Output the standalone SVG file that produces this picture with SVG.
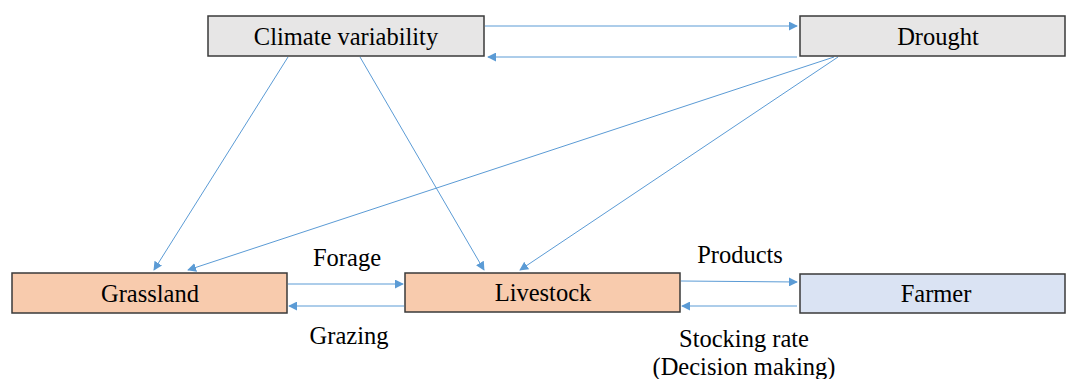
<svg xmlns="http://www.w3.org/2000/svg" width="1067" height="379" viewBox="0 0 1067 379">
<style>
.box{stroke:#3a3a3a;stroke-width:1.5}
.gray{fill:#e7e6e6}
.orange{fill:#f8cbad}
.blue{fill:#dae3f3}
text{font-family:"Liberation Serif","Times New Roman",serif;font-size:24.5px;fill:#000}
.c{text-anchor:middle}
.ln{stroke:#5b9bd5;stroke-width:1;fill:none;marker-end:url(#ah)}
</style>
<defs>
<marker id="ah" viewBox="0 0 10 10" refX="9" refY="5" markerWidth="9" markerHeight="9" markerUnits="userSpaceOnUse" orient="auto">
<path d="M0,0 L10,5 L0,10 z" fill="#5b9bd5"/>
</marker>
</defs>
<rect width="1067" height="379" fill="#fff"/>
<g id="connectors">
<line class="ln" x1="485" y1="26" x2="797" y2="26"/>
<line class="ln" x1="797" y1="57" x2="488" y2="57"/>
<line class="ln" x1="288" y1="57" x2="154" y2="270"/>
<line class="ln" x1="360" y1="57" x2="484" y2="270"/>
<line class="ln" x1="834" y1="57" x2="188" y2="270"/>
<line class="ln" x1="838" y1="57" x2="520" y2="270"/>
<line class="ln" x1="288" y1="284" x2="403" y2="284"/>
<line class="ln" x1="404" y1="306" x2="289" y2="306"/>
<line class="ln" x1="681" y1="281" x2="797" y2="282"/>
<line class="ln" x1="797" y1="306" x2="682" y2="306"/>
</g>
<g id="climate">
<rect class="box gray" x="208" y="16" width="276" height="40"/>
<text class="c" x="346" y="45">Climate variability</text>
</g>
<g id="drought">
<rect class="box gray" x="800" y="16" width="265" height="40"/>
<text class="c" x="938" y="45">Drought</text>
</g>
<g id="grassland">
<rect class="box orange" x="12" y="273" width="275" height="40"/>
<text class="c" x="150" y="302">Grassland</text>
</g>
<g id="livestock">
<rect class="box orange" x="405" y="273" width="275" height="39"/>
<text class="c" x="543" y="301">Livestock</text>
</g>
<g id="farmer">
<rect class="box blue" x="800" y="274" width="265" height="39"/>
<text class="c" x="936" y="302">Farmer</text>
</g>
<g id="labels">
<text class="c" x="347" y="266">Forage</text>
<text class="c" x="349" y="344">Grazing</text>
<text class="c" x="740" y="263">Products</text>
<text class="c" x="744" y="347">Stocking rate</text>
<text class="c" x="744" y="375">(Decision making)</text>
</g>
</svg>
